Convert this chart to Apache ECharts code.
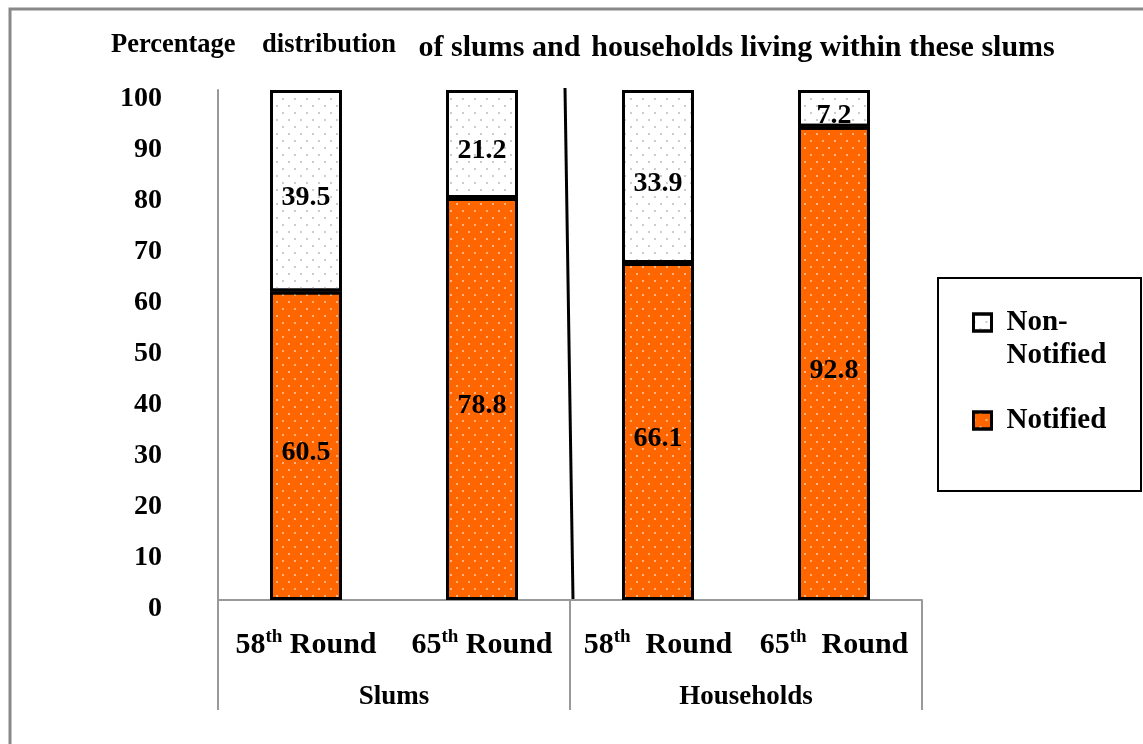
<!DOCTYPE html>
<html>
<head>
<meta charset="utf-8">
<script src="https://cdn.jsdelivr.net/npm/echarts@6/dist/echarts.min.js"></script>
<style>
  html, body { margin: 0; padding: 0; background: #fff; }
  #chart { width: 1143px; height: 744px; }
</style>
</head>
<body>
<div id="chart"></div>
<script>
// data
const categories = ['58th Round', '65th Round', '58th  Round', '65th  Round']
const groups = ['Slums', 'Households']
const notified = [60.5, 78.8, 66.1, 92.8]
const nonNotified = [39.5, 21.2, 33.9, 7.2]
const yTicks = [0, 100, 10] // min, max, interval

const FONT = "'Liberation Serif', 'Times New Roman', serif"

const chart = echarts.init(document.getElementById('chart'))

const roundLabel = (v) => {
  const m = v.match(/^(\d+)th(\s+Round)$/)
  return '{n|' + m[1] + '}{s|th}{n|' + m[2] + '}'
}

const barLabel = {
  show: true,
  position: 'inside',
  offset: [0, 7],
  fontFamily: FONT,
  fontWeight: 'bold',
  fontSize: 28,
  color: '#000'
}

const option = {
  backgroundColor: '#fff',
  animation: false,
  title: {
    text: '{s|Percentage    distribution}{l|   of slums and }{g| }{l|households living within these slums}',
    left: 106,
    top: 27,
    textStyle: {
      rich: {
        s: { fontFamily: FONT, fontWeight: 'bold', fontSize: 26.5, color: '#000', padding: [0, 0, 6, 0] },
        l: { fontFamily: FONT, fontWeight: 'bold', fontSize: 30, color: '#000' },
        g: { fontFamily: FONT, fontSize: 14 }
      }
    }
  },
  legend: {
    orient: 'vertical',
    left: 972,
    top: 273,
    padding: 0,
    icon: 'rect',
    itemWidth: 18,
    itemHeight: 17,
    itemGap: 32,
    itemStyle: { borderColor: '#000', borderWidth: 3 },
    data: ['Non-Notified', 'Notified'],
    formatter: (name) => name === 'Non-Notified' ? ' \nNon-\nNotified' : name,
    textStyle: {
      fontFamily: FONT,
      fontWeight: 'bold',
      fontSize: 29,
      lineHeight: 33,
      color: '#000',
      padding: [0, 0, 0, 10]
    }
  },
  grid: {
    left: 218,
    right: 221,
    top: 90,
    bottom: 144
  },
  xAxis: [
    {
      type: 'category',
      data: categories,
      position: 'bottom',
      axisLine: { show: false },
      axisTick: { show: false },
      axisLabel: {
        margin: 28,
        formatter: roundLabel,
        rich: {
          n: { fontFamily: FONT, fontWeight: 'bold', fontSize: 30, color: '#000' },
          s: { fontFamily: FONT, fontWeight: 'bold', fontSize: 19, color: '#000', padding: [0, 0, 16, 0] }
        }
      }
    },
    {
      type: 'category',
      data: groups,
      position: 'bottom',
      axisLine: { show: true, lineStyle: { color: '#999', width: 2 } },
      axisTick: { show: true, length: 110, lineStyle: { color: '#999', width: 2 } },
      axisLabel: {
        margin: 84,
        fontFamily: FONT,
        fontWeight: 'bold',
        fontSize: 27,
        color: '#000'
      }
    }
  ],
  yAxis: {
    type: 'value',
    min: yTicks[0],
    max: yTicks[1],
    interval: yTicks[2],
    axisLine: { show: true, lineStyle: { color: '#999', width: 2 } },
    axisTick: { show: false },
    splitLine: { show: false },
    axisLabel: {
      margin: 56,
      verticalAlign: 'top',
      lineHeight: 18,
      fontFamily: FONT,
      fontWeight: 'bold',
      fontSize: 28,
      color: '#000'
    }
  },
  series: [
    {
      name: 'Notified',
      type: 'bar',
      stack: 'total',
      xAxisIndex: 0,
      barWidth: 72,
      data: notified,
      itemStyle: {
        color: '#ff6600',
        borderColor: '#000',
        borderWidth: 3,
        decal: {
          symbol: 'rect',
          symbolSize: 1,
          color: 'rgba(255,255,255,0.5)',
          dashArrayX: [[2, 10], [0, 6, 2, 4]],
          dashArrayY: [2, 5]
        }
      },
      label: barLabel
    },
    {
      name: 'Non-Notified',
      type: 'bar',
      stack: 'total',
      xAxisIndex: 0,
      barWidth: 72,
      data: nonNotified,
      itemStyle: {
        color: '#fff',
        borderColor: '#000',
        borderWidth: 3,
        decal: {
          symbol: 'rect',
          symbolSize: 1,
          color: 'rgba(170,170,170,0.6)',
          dashArrayX: [[2, 10], [0, 6, 2, 4]],
          dashArrayY: [2, 5]
        }
      },
      label: barLabel
    }
  ]
}

chart.setOption(option)

// decorations placed from the axes
const xa = chart.convertToPixel({ xAxisIndex: 0 }, categories[1])
const xb = chart.convertToPixel({ xAxisIndex: 0 }, categories[2])
const midX = (xa + xb) / 2
const yTop = chart.convertToPixel({ yAxisIndex: 0 }, yTicks[1])
const yBot = chart.convertToPixel({ yAxisIndex: 0 }, yTicks[0])

chart.setOption({
  graphic: [
    {
      type: 'rect',
      shape: { x: 10, y: 9, width: 1300, height: 900 },
      style: { fill: null, stroke: '#888', lineWidth: 3 },
      silent: true,
      z: -1
    },
    {
      type: 'rect',
      shape: { x: 938, y: 278, width: 203, height: 213 },
      style: { fill: null, stroke: '#000', lineWidth: 2 },
      silent: true
    },
    {
      type: 'line',
      shape: { x1: midX - 5, y1: yTop - 2, x2: midX + 3, y2: yBot },
      style: { stroke: '#000', lineWidth: 3 },
      silent: true
    }
  ]
})

window.addEventListener('resize', () => {
  chart && chart.resize()
})
</script>
</body>
</html>
